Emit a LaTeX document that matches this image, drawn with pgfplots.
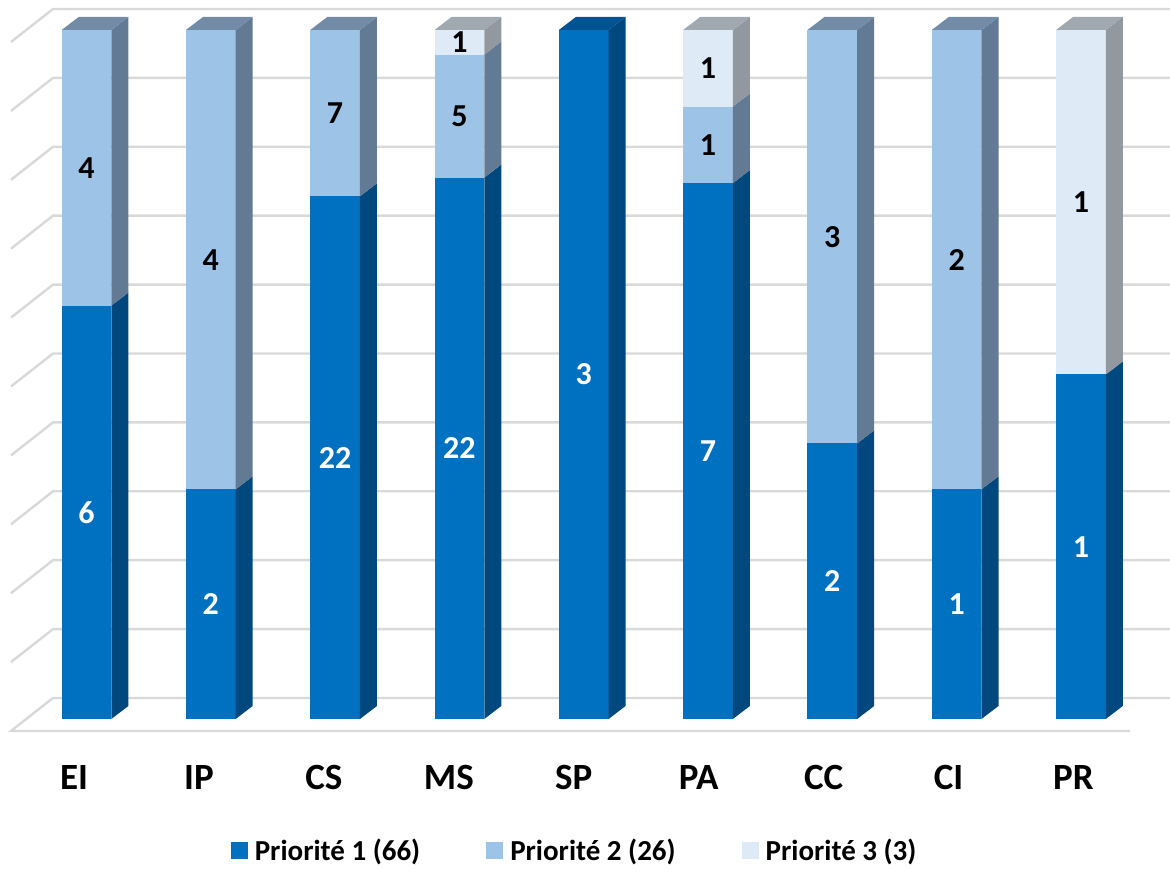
\documentclass[border=0pt]{standalone}
\usepackage{pgfplots}
\pgfplotsset{compat=1.18}
\usepackage{fontspec}
\setmainfont{Carlito}

\definecolor{pa}{RGB}{0,112,192}
\definecolor{paS}{RGB}{0,72,126}
\definecolor{paT}{RGB}{0,84,148}
\definecolor{pb}{RGB}{157,195,230}
\definecolor{pbS}{RGB}{99,122,148}
\definecolor{pbT}{RGB}{114,140,168}
\definecolor{pc}{RGB}{222,235,247}
\definecolor{pcS}{RGB}{145,152,160}
\definecolor{pcT}{RGB}{160,168,176}
\definecolor{gridgray}{RGB}{217,217,217}

\newcommand\barfont{\fontsize{16}{18}\bfseries\selectfont}
\newcommand\catfont{\fontsize{18.5}{22}\bfseries\selectfont}
\newcommand\legfont{\fontsize{14.5}{17}\bfseries\selectfont}

% bar half width, depth in x and y (axis units)
\def\bw{0.2}\def\dx{0.137}\def\dy{1.89}

% one segment: #1 x, #2 lower %, #3 upper %, #4 colour, #5 label colour, #6 count
\newcommand\seg[6]{%
  \ifnum#6>0\relax
    \pgfmathsetmacro\xl{#1-\bw}%
    \pgfmathsetmacro\xr{#1+\bw}%
    \pgfmathsetmacro\xd{#1+\bw+\dx}%
    \pgfmathsetmacro\lod{#2+\dy}%
    \pgfmathsetmacro\hid{#3+\dy}%
    \pgfmathsetmacro\ym{(#2+#3)/2}%
    \edef\tmp{%
      \noexpand\addplot[fill=#4, draw=none, forget plot] coordinates {(\xl,#2) (\xr,#2) (\xr,#3) (\xl,#3)};
      \noexpand\addplot[fill=#4S, draw=none, forget plot] coordinates {(\xr,#2) (\xd,\lod) (\xd,\hid) (\xr,#3)};
      \noexpand\node[text=#5, font=\noexpand\barfont] at (axis cs:#1,\ym) {#6};
    }\tmp
  \fi}

% one stacked bar: #1 x, #2 #3 #4 counts of priority 1, 2, 3
\newcommand\stackbar[4]{%
  \pgfmathsetmacro\tot{#2+#3+#4}%
  \pgfmathsetmacro\ya{100*#2/\tot}%
  \pgfmathsetmacro\yb{100*(#2+#3)/\tot}%
  \seg{#1}{0}{\ya}{pa}{white}{#2}%
  \seg{#1}{\ya}{\yb}{pb}{black}{#3}%
  \seg{#1}{\yb}{100}{pc}{black}{#4}%
  \ifnum#4>0 \def\tc{pcT}\else\ifnum#3>0 \def\tc{pbT}\else\def\tc{paT}\fi\fi
  \pgfmathsetmacro\xl{#1-\bw}%
  \pgfmathsetmacro\xr{#1+\bw}%
  \pgfmathsetmacro\xd{#1+\bw+\dx}%
  \pgfmathsetmacro\xld{#1-\bw+\dx}%
  \pgfmathsetmacro\topd{100+\dy}%
  \edef\tmp{%
    \noexpand\addplot[fill=\tc, draw=none, forget plot] coordinates {(\xl,100) (\xr,100) (\xd,\topd) (\xld,\topd)};
  }\tmp}

\begin{document}
\begin{tikzpicture}
\begin{axis}[
    scale only axis,
    width=585pt, height=435pt,
    xmin=0.3041, xmax=9.7168,
    ymin=-21.916, ymax=104.354,
    hide axis,
    no markers,
    legend columns=3,
    legend image code/.code={\path[#1] (0pt,-4.25pt) rectangle (8.5pt,4.25pt); \path (10pt,0pt);},
    legend style={at={(0.492,0.022)}, anchor=center, draw=none, fill=none,
        font=\legfont, inner sep=0pt,
        /tikz/every even column/.append style={column sep=31pt}},
]

% back wall and side wall grid
\pgfplotsinvokeforeach{10,20,...,100}{%
  \addplot[gridgray, line width=1.2pt, forget plot] coordinates {(0.3926,#1-1.74) (0.7305,#1+3.05) (9.72,#1+3.05)};
}
\addplot[gridgray, line width=1.2pt, forget plot] coordinates {(9.395,-1.74) (0.3926,-1.74) (0.7305,3.05) (9.72,3.05)};

\stackbar{1}{6}{4}{0}
\stackbar{2}{2}{4}{0}
\stackbar{3}{22}{7}{0}
\stackbar{4}{22}{5}{1}
\stackbar{5}{3}{0}{0}
\stackbar{6}{7}{1}{1}
\stackbar{7}{2}{3}{0}
\stackbar{8}{1}{2}{0}
\stackbar{9}{1}{0}{1}

% category names
\node[font=\catfont] at (axis cs:0.900,-8.56) {EI};
\node[font=\catfont] at (axis cs:1.905,-8.56) {IP};
\node[font=\catfont] at (axis cs:2.910,-8.56) {CS};
\node[font=\catfont] at (axis cs:3.915,-8.56) {MS};
\node[font=\catfont] at (axis cs:4.920,-8.56) {SP};
\node[font=\catfont] at (axis cs:5.925,-8.56) {PA};
\node[font=\catfont] at (axis cs:6.930,-8.56) {CC};
\node[font=\catfont] at (axis cs:7.935,-8.56) {CI};
\node[font=\catfont] at (axis cs:8.940,-8.56) {PR};

\addlegendimage{fill=pa, draw=none}
\addlegendentry{Priorité 1 (66)}
\addlegendimage{fill=pb, draw=none}
\addlegendentry{Priorité 2 (26)}
\addlegendimage{fill=pc, draw=none}
\addlegendentry{Priorité 3 (3)}
\end{axis}
\pgfresetboundingbox
\path (current axis.south west) rectangle (current axis.north east);
\end{tikzpicture}
\end{document}
